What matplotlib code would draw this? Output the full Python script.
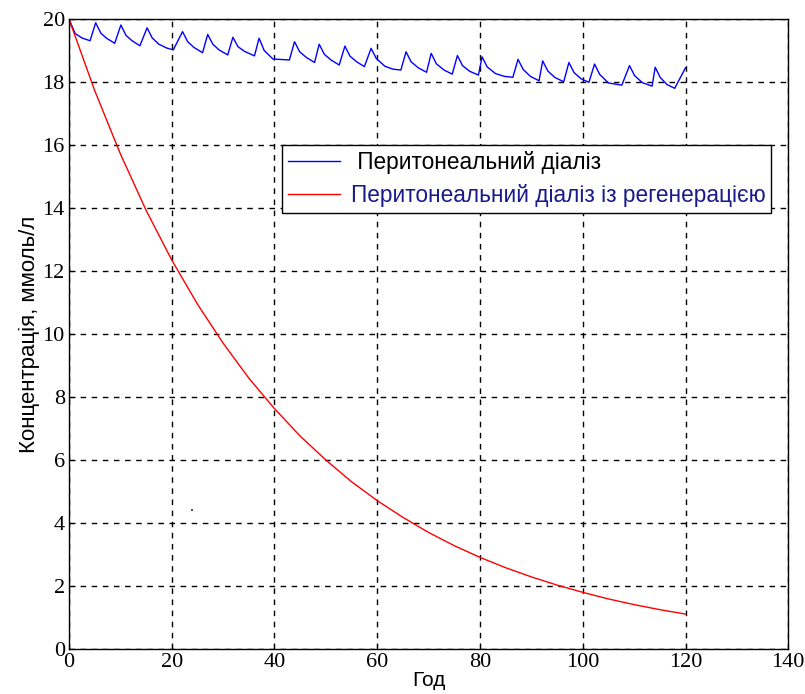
import matplotlib.pyplot as plt

# Peritoneal dialysis (blue)
t_pd = [0, 1.2, 2.5, 4.1,
        5.2, 6.2, 7.3, 8.9,
        10.1, 11.1, 12.2, 13.8,
        15.2, 16.2, 17.5, 19.0, 20.3,
        22.1, 23.1, 24.3, 26.0,
        27.0, 28.0, 29.2, 30.9,
        31.9, 32.9, 34.2, 36.1,
        37.0, 38.0, 39.7, 42.9,
        43.9, 44.9, 46.2, 47.8,
        48.7, 49.7, 51.0, 52.6,
        53.7, 54.7, 56.0, 57.5,
        58.8, 59.8, 61.5, 63.0, 64.6,
        65.6, 66.6, 68.0, 69.6,
        70.5, 71.5, 73.0, 74.6,
        75.6, 76.6, 78.0, 79.7,
        80.4, 81.4, 83.0, 84.7, 86.4,
        87.4, 88.4, 89.8, 91.5,
        92.2, 93.2, 94.6, 96.3,
        97.3, 98.3, 99.7, 101.2,
        102.3, 103.3, 105.0, 107.6,
        109.1, 110.1, 111.6, 113.5,
        114.1, 115.1, 116.4, 117.9,
        120.0]
c_pd = [20.0, 19.54, 19.40, 19.31,
        19.88, 19.55, 19.39, 19.23,
        19.81, 19.48, 19.32, 19.15,
        19.72, 19.40, 19.20, 19.08, 19.02,
        19.60, 19.28, 19.10, 18.93,
        19.51, 19.20, 19.02, 18.86,
        19.42, 19.12, 18.97, 18.83,
        19.39, 19.00, 18.73, 18.70,
        19.28, 18.96, 18.78, 18.62,
        19.20, 18.88, 18.70, 18.54,
        19.14, 18.82, 18.64, 18.49,
        19.07, 18.75, 18.50, 18.41, 18.38,
        18.96, 18.64, 18.45, 18.31,
        18.91, 18.58, 18.38, 18.25,
        18.84, 18.52, 18.34, 18.22,
        18.80, 18.48, 18.27, 18.18, 18.15,
        18.72, 18.40, 18.18, 18.04,
        18.67, 18.35, 18.14, 18.01,
        18.62, 18.30, 18.10, 17.99,
        18.57, 18.24, 17.97, 17.90,
        18.52, 18.20, 17.98, 17.87,
        18.47, 18.14, 17.92, 17.80,
        18.45]

# Peritoneal dialysis with regeneration (red)
t_reg = [0, 5, 10, 15, 20, 25, 30, 35, 40, 45, 50, 55, 60,
         65, 70, 75, 80, 85, 90, 95, 100, 105, 110, 115, 120]
c_reg = [20.0, 17.73, 15.72, 13.93, 12.35, 10.95, 9.71, 8.60, 7.63, 6.76, 6.00, 5.31, 4.71,
         4.18, 3.70, 3.28, 2.91, 2.58, 2.29, 2.03, 1.80, 1.59, 1.41, 1.25, 1.11]

# stray speck visible in the original image
stray_t = [24.0]
stray_c = [4.4]

label_pd = ' Перитонеальний діаліз'
label_reg = 'Перитонеальний діаліз із регенерацією'

fig = plt.figure(figsize=(8.05, 6.94), dpi=100)
ax = fig.add_axes([0.0857, 0.0648, 0.8935, 0.9078])

ax.plot(t_pd, c_pd, color='#0000ff', lw=1.0, label=label_pd)
ax.plot(t_reg, c_reg, color='#ff0000', lw=1.0, label=label_reg)
ax.plot(stray_t, stray_c, 's', color='#555555', ms=1.5, mew=0)

ax.set_xlim(0, 140)
ax.set_ylim(0, 20)
ax.set_xticks(range(0, 141, 20))
ax.set_yticks(range(0, 21, 2))
ax.grid(True, color='black', linestyle=(0, (4, 4)), linewidth=1.0)
ax.tick_params(direction='in', length=4, color='black', pad=3)
for lab in ax.get_xticklabels() + ax.get_yticklabels():
    lab.set_fontfamily('Liberation Serif')
    lab.set_fontsize(16)
for sp in ax.spines.values():
    sp.set_color('black')
    sp.set_linewidth(1.0)

ax.set_xlabel('Год', fontfamily='Liberation Sans', fontsize=15, labelpad=-1)
ax.set_ylabel('Концентрація, ммоль/л', fontfamily='Liberation Sans', fontsize=16, labelpad=2)

leg = ax.legend(loc='upper left', bbox_to_anchor=(0.296, 0.80), borderaxespad=0,
                fancybox=False, edgecolor='black', framealpha=1,
                handlelength=2.3, handletextpad=0.5,
                prop={'family': 'Liberation Sans', 'size': 16.3},
                borderpad=0.25, labelspacing=0.45)
leg.get_frame().set_linewidth(1.0)
leg.get_texts()[1].set_color('#1a1a8c')

fig.savefig('out.png', dpi=100)
